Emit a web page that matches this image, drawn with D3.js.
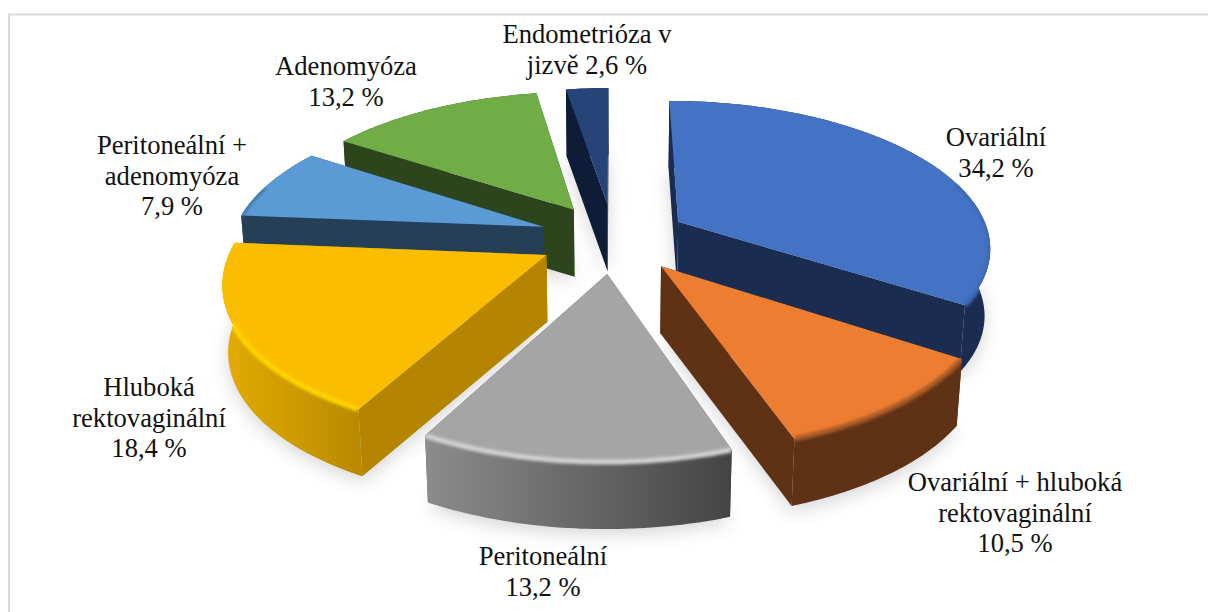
<!DOCTYPE html>
<html><head><meta charset="utf-8">
<style>html,body{margin:0;padding:0;background:#fff;overflow:hidden}svg{display:block}
text{font-family:"Liberation Serif","Times New Roman",serif;font-size:26.6px;fill:#111;text-anchor:middle}</style>
<script src="https://cdn.jsdelivr.net/npm/d3@7/dist/d3.min.js"></script>
</head><body><svg id="c" width="1208" height="612"></svg>
<script>
const categories=["Ovariální","Ovariální + hluboká rektovaginální","Peritoneální","Hluboká rektovaginální","Peritoneální + adenomyóza","Adenomyóza","Endometrióza v jizvě"];
const values=[34.2,10.5,13.2,18.4,7.9,13.2,2.6];
const labelLines=[["Ovariální"],["Ovariální + hluboká","rektovaginální"],["Peritoneální"],["Hluboká","rektovaginální"],["Peritoneální +","adenomyóza"],["Adenomyóza"],["Endometrióza v","jizvě "]];
const labelAnchors=[[996,146],[1015,491],[543,565],[149,396],[172,154],[346,75],[587,43]];
const topColors=["#4472c4","#ed7d31","#a5a5a5","#fbbd00","#5b9bd5","#70ad47","#264478"];
const cutColors=["#1a2c50","#5f3115","#666666","#b58500","#243f56","#2d451c","#0e1c38"];
const wallLeft=["#1a2c50","#5f3115","#8c8c8c","#e3ac00","#243f56","#2d451c","#0e1c38"];
const wallRight=["#1a2c50","#5f3115","#444444","#b98a00","#243f56","#2d451c","#0e1c38"];
const bevelColors=["#3d68b4","#a85a26","#d2d2d2","#ffd500","#3e78ad","#5a8f38","#1c3561"];
const paintOrder=[6,5,0,4,3,1,2];

const svg=d3.select("#c");
const defs=svg.append("defs");
const cx=613.5,cy=238,R=312,Y=145,t=0.16,explode=0.24,H=67,shrink=0.985;
const pie=d3.pie().sort(null).value(d=>d);
const arcs=pie(values);
const uScale=d3.scaleLinear().domain([0,1]).range([0,R]);
const vScale=d3.scaleLinear().domain([0,1]).range([0,Y]);
const project=(u,v)=>{const p=1/(1-t*v);return [cx+uScale(u)*p,cy+vScale(v)*p];};
const drop=q=>[cx+(q[0]-cx)*shrink,q[1]+H];
const line=d3.line();

svg.append("rect").attr("x",9).attr("y",14.5).attr("width",1300).attr("height",800).attr("fill","#fff").attr("stroke","#d9d9d9").attr("stroke-width",2);

const blur=(id,s)=>defs.append("filter").attr("id",id).attr("x","-30%").attr("y","-30%").attr("width","160%").attr("height","160%")
  .append("feGaussianBlur").attr("stdDeviation",s);
blur("soft",9);blur("bev",1.8);

const slices=arcs.map((a,i)=>{
  const mid=(a.startAngle+a.endAngle)/2;
  const ou=explode*Math.sin(mid),ov=-explode*Math.cos(mid);
  const apex=project(ou,ov);
  const n=Math.max(8,Math.ceil((a.endAngle-a.startAngle)*60));
  const angles=d3.range(n+1).map(k=>a.startAngle+(a.endAngle-a.startAngle)*k/n);
  const rim=angles.map(th=>project(ou+Math.sin(th),ov-Math.cos(th)));
  const frontRim=rim.filter((q,k)=>Math.cos(angles[k])<0.3);
  return {i,apex,rim,frontRim};
});

// soft floor shadow
const shadowG=svg.append("g").attr("filter","url(#soft)").attr("opacity",0.3);
slices.forEach(s=>{
  const pts=[s.apex,...s.rim].map(drop).map(q=>[q[0],q[1]+5]);
  shadowG.append("path").attr("d",line(pts)+"Z").attr("fill","#777");
});

paintOrder.forEach(i=>{
  const s=slices[i],{apex,rim,frontRim}=s,g=svg.append("g");
  const first=rim[0],last=rim[rim.length-1];
  const band=(p,q)=>line([p,q,drop(q),drop(p)])+"Z";
  g.append("path").attr("d",band(apex,first)).attr("fill",cutColors[i]);
  g.append("path").attr("d",band(apex,last)).attr("fill",cutColors[i]);
  const xe=d3.extent(rim,d=>d[0]);
  const gid="w"+i;
  const gr=defs.append("linearGradient").attr("id",gid).attr("gradientUnits","userSpaceOnUse")
    .attr("x1",xe[0]).attr("x2",xe[1]).attr("y1",0).attr("y2",0);
  gr.append("stop").attr("offset",0).attr("stop-color",wallLeft[i]);
  gr.append("stop").attr("offset",1).attr("stop-color",wallRight[i]);
  const wall=line([...rim,...rim.map(drop).reverse()])+"Z";
  g.append("path").attr("d",wall).attr("fill",`url(#${gid})`);
  const topD=line([apex,...rim])+"Z";
  g.append("path").attr("d",topD).attr("fill",topColors[i]);
  defs.append("clipPath").attr("id","cp"+i).selectAll("path").data([wall,topD]).join("path").attr("d",d=>d);
  if(frontRim.length>1){
    g.append("g").attr("clip-path",`url(#cp${i})`).append("path").attr("d",line(frontRim))
      .attr("fill","none").attr("stroke",bevelColors[i]).attr("stroke-width",5).attr("filter","url(#bev)");
  }
});

// labels
const pct=d3.format(".1f");
const tg=svg.append("g");
values.forEach((v,i)=>{
  const a=labelAnchors[i];
  const lines=labelLines[i].slice();
  const val=pct(v).replace(".",",")+" %";
  if(lines[lines.length-1].endsWith(" ")) lines[lines.length-1]=lines[lines.length-1]+val;
  else lines.push(val);
  lines.forEach((l,k)=>tg.append("text").attr("x",a[0]).attr("y",a[1]+k*30.5).text(l));
});
</script></body></html>
